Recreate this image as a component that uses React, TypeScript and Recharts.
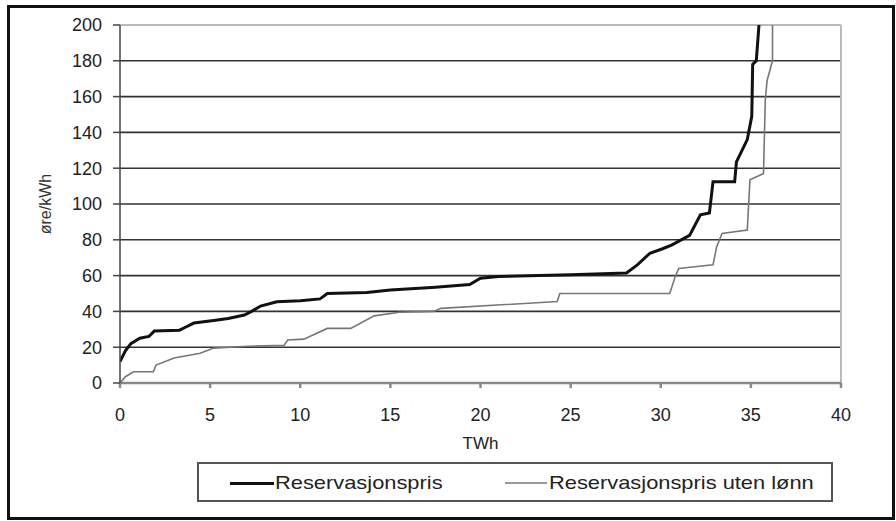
import React from 'react';
import { LineChart, Line, XAxis, YAxis, CartesianGrid, Legend, ReferenceLine, Label } from 'recharts';

// supply curve, TWh vs øre/kWh
const RES_X = [0, 0.3, 0.6, 1.1, 1.6, 1.9, 3.3, 3.6, 4.1, 5.3, 6.0, 6.9, 7.3, 7.8, 8.7, 10.0, 11.1, 11.5, 13.7, 15.0, 17.5, 19.4, 20.0, 21.0, 25.0, 28.1, 28.7, 29.4, 30.1, 30.6, 31.6, 32.2, 32.7, 32.9, 34.1, 34.2, 34.8, 35.05, 35.1, 35.3, 35.45];
const RES_Y = [12, 18, 22, 25, 26, 29, 29.5, 31, 33.5, 35, 36, 38, 40, 43, 45.4, 46, 47, 50, 50.5, 52, 53.5, 55, 58.5, 59.5, 60.5, 61.5, 66, 72.5, 75, 77, 82.5, 94, 95, 112.5, 112.5, 123.5, 136, 149, 178, 180, 200];

const UTEN_X = [0, 0.3, 0.75, 1.85, 2.0, 3.0, 4.45, 5.2, 7.1, 9.1, 9.3, 10.2, 11.5, 12.8, 14.1, 15.5, 17.4, 17.8, 24.25, 24.4, 30.5, 30.8, 31.0, 32.9, 33.1, 33.4, 34.8, 34.95, 35.7, 35.8, 35.9, 36.2, 36.2];
const UTEN_Y = [0, 3.5, 6.3, 6.3, 10, 14, 16.6, 19.5, 20.5, 21, 24, 24.5, 30.5, 30.5, 37.5, 39.5, 40, 41.7, 45.5, 50, 50, 59.4, 64, 66, 76, 83.6, 85.5, 113.5, 117, 158, 169, 180, 200];

const X_TICKS = [0, 5, 10, 15, 20, 25, 30, 35, 40];
const Y_TICKS = [0, 20, 40, 60, 80, 100, 120, 140, 160, 180, 200];
const NAMES = ['Reservasjonspris', 'Reservasjonspris uten lønn'];

const FONT = '"Liberation Sans", Arial, sans-serif';

const resData = RES_X.map((x, i) => ({ x, y: RES_Y[i] }));
const utenData = UTEN_X.map((x, i) => ({ x, y: UTEN_Y[i] }));

const legendText: React.CSSProperties = {
  position: 'absolute', top: 8, fontSize: 19, color: '#222', whiteSpace: 'nowrap',
  transform: 'scaleX(1.15)', transformOrigin: 'left center', lineHeight: '22px',
};

function LegendBox() {
  return (
    <div style={{ position: 'relative', width: 636, height: 40, boxSizing: 'border-box', border: '2px solid #555', background: '#fff', fontFamily: FONT }}>
      <div style={{ position: 'absolute', left: 31, top: 18, width: 44, height: 3, background: '#111' }} />
      <span style={{ ...legendText, left: 76 }}>{NAMES[0]}</span>
      <div style={{ position: 'absolute', left: 306, top: 18, width: 42, height: 2, background: '#999' }} />
      <span style={{ ...legendText, left: 350 }}>{NAMES[1]}</span>
    </div>
  );
}

export default function App() {
  return (
    <div style={{ position: 'absolute', left: 0, top: 0, width: 896, height: 521, background: '#fff', fontFamily: FONT }}>
      <div style={{ position: 'absolute', left: 7, top: 5, width: 888, height: 515, boxSizing: 'border-box', border: '3px solid #111' }} />
      <LineChart width={896} height={521} margin={{ top: 25, right: 55, left: 60, bottom: 108 }}>
        <CartesianGrid vertical={false} stroke="#333" strokeWidth={1.6} />
        <XAxis
          dataKey="x" type="number" domain={[0, 40]} ticks={X_TICKS} allowDataOverflow
          height={30} tickSize={5} tickMargin={20}
          stroke="#888" strokeWidth={2.5}
          tick={{ fontSize: 18, fill: '#222', fontFamily: FONT }}
          label={{ value: 'TWh', position: 'bottom', offset: 24, fontSize: 17, fill: '#222', fontFamily: FONT }}
        />
        <YAxis
          type="number" domain={[0, 200]} ticks={Y_TICKS} allowDataOverflow
          width={60} tickSize={7} tickMargin={11}
          stroke="#444" strokeWidth={1.5}
          tick={{ fontSize: 18, fill: '#222', fontFamily: FONT }}
        >
          <Label
            content={({ viewBox }: any) => {
              const cx = viewBox.x - 15;
              const cy = viewBox.y + viewBox.height / 2;
              return (
                <text x={cx} y={cy} transform={`rotate(-90 ${cx} ${cy})`} textAnchor="middle" dominantBaseline="central"
                  fontSize={16} fill="#333" fontFamily={FONT}>øre/kWh</text>
              );
            }}
          />
        </YAxis>
        <ReferenceLine y={200} stroke="#bbb" strokeWidth={2} />
        <ReferenceLine x={40} stroke="#bbb" strokeWidth={2} />
        <Line data={utenData} dataKey="y" name={NAMES[1]} type="linear" stroke="#777" strokeWidth={1.6} dot={false} isAnimationActive={false} />
        <Line data={resData} dataKey="y" name={NAMES[0]} type="linear" stroke="#111" strokeWidth={3} dot={false} isAnimationActive={false} />
        <Legend
          verticalAlign="middle" align="center" layout="horizontal"
          wrapperStyle={{ left: 197, top: 462, width: 636, height: 40 }}
          content={() => <LegendBox />}
        />
      </LineChart>
    </div>
  );
}
